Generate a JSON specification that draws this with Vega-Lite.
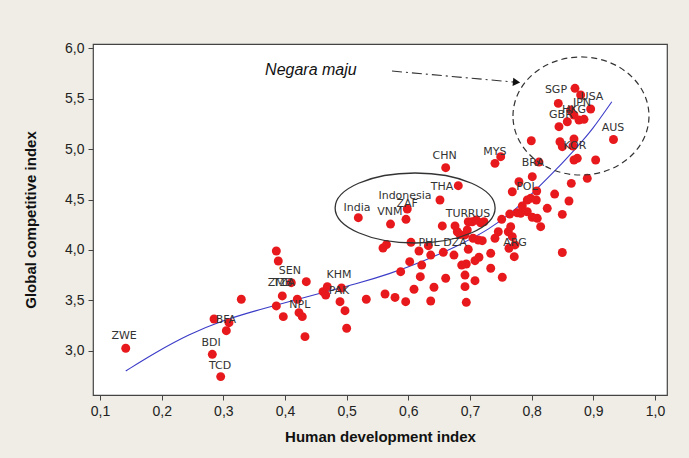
{
  "$schema": "https://vega.github.io/schema/vega-lite/v6.json",
  "width": 574,
  "height": 351,
  "autosize": {"type": "none"},
  "padding": {"left": 93, "top": 44, "right": 22, "bottom": 63},
  "background": "#efede5",
  "config": {
    "locale": {"number": {"decimal": ",", "thousands": ".", "grouping": [3], "currency": ["", ""]}},
    "view": {"fill": "white", "stroke": "#444", "strokeWidth": 1.2},
    "axis": {"grid": false, "domain": false, "labelFont": "Liberation Sans", "labelFontSize": 14, "labelColor": "#222", "tickColor": "#444", "tickSize": 5, "titleFont": "Liberation Sans", "titleFontSize": 15, "titleFontWeight": "bold", "titleColor": "#111"}
  },
  "datasets": {
    "fit": [
      {"hdi": 0.1417, "gci": 2.802}, {"hdi": 0.190, "gci": 2.985}, {"hdi": 0.244, "gci": 3.165},
      {"hdi": 0.298, "gci": 3.300}, {"hdi": 0.352, "gci": 3.399}, {"hdi": 0.406, "gci": 3.488},
      {"hdi": 0.460, "gci": 3.577}, {"hdi": 0.515, "gci": 3.663}, {"hdi": 0.569, "gci": 3.762},
      {"hdi": 0.623, "gci": 3.884}, {"hdi": 0.677, "gci": 4.033}, {"hdi": 0.731, "gci": 4.198},
      {"hdi": 0.779, "gci": 4.429}, {"hdi": 0.801, "gci": 4.561}, {"hdi": 0.842, "gci": 4.809},
      {"hdi": 0.874, "gci": 5.023}, {"hdi": 0.898, "gci": 5.188}, {"hdi": 0.930, "gci": 5.468}
    ],
    "pts": [
      {"hdi": 0.1417, "gci": 3.027}, {"hdi": 0.2849, "gci": 3.317}, {"hdi": 0.3092, "gci": 3.280},
      {"hdi": 0.3048, "gci": 3.201}, {"hdi": 0.2821, "gci": 2.967}, {"hdi": 0.2957, "gci": 2.746},
      {"hdi": 0.3291, "gci": 3.512}, {"hdi": 0.3859, "gci": 3.990}, {"hdi": 0.3891, "gci": 3.891},
      {"hdi": 0.3956, "gci": 3.545}, {"hdi": 0.3859, "gci": 3.446}, {"hdi": 0.3972, "gci": 3.340},
      {"hdi": 0.4102, "gci": 3.676}, {"hdi": 0.4345, "gci": 3.686}, {"hdi": 0.4199, "gci": 3.512},
      {"hdi": 0.4227, "gci": 3.379}, {"hdi": 0.4280, "gci": 3.340}, {"hdi": 0.4324, "gci": 3.142},
      {"hdi": 0.4616, "gci": 3.587}, {"hdi": 0.4660, "gci": 3.554}, {"hdi": 0.4686, "gci": 3.637},
      {"hdi": 0.4916, "gci": 3.624}, {"hdi": 0.4892, "gci": 3.488}, {"hdi": 0.4973, "gci": 3.399},
      {"hdi": 0.5000, "gci": 3.225}, {"hdi": 0.5318, "gci": 3.512}, {"hdi": 0.5622, "gci": 3.564},
      {"hdi": 0.5589, "gci": 4.020}, {"hdi": 0.5646, "gci": 4.054}, {"hdi": 0.5189, "gci": 4.320},
      {"hdi": 0.5711, "gci": 4.257}, {"hdi": 0.5962, "gci": 4.304}, {"hdi": 0.5983, "gci": 4.406},
      {"hdi": 0.6513, "gci": 4.495}, {"hdi": 0.6606, "gci": 4.815}, {"hdi": 0.6810, "gci": 4.637},
      {"hdi": 0.6551, "gci": 4.238}, {"hdi": 0.6757, "gci": 4.238}, {"hdi": 0.6794, "gci": 4.181},
      {"hdi": 0.6838, "gci": 4.153}, {"hdi": 0.6972, "gci": 4.280}, {"hdi": 0.7037, "gci": 4.280},
      {"hdi": 0.7102, "gci": 4.297}, {"hdi": 0.7173, "gci": 4.270}, {"hdi": 0.7227, "gci": 4.280},
      {"hdi": 0.6956, "gci": 4.198}, {"hdi": 0.6919, "gci": 4.149}, {"hdi": 0.7049, "gci": 4.116},
      {"hdi": 0.7135, "gci": 4.099}, {"hdi": 0.7199, "gci": 4.092}, {"hdi": 0.6043, "gci": 4.076},
      {"hdi": 0.6173, "gci": 3.990}, {"hdi": 0.6324, "gci": 4.043}, {"hdi": 0.6363, "gci": 3.950},
      {"hdi": 0.6567, "gci": 3.977}, {"hdi": 0.6740, "gci": 3.950}, {"hdi": 0.6972, "gci": 4.007},
      {"hdi": 0.7336, "gci": 3.967}, {"hdi": 0.5876, "gci": 3.785}, {"hdi": 0.6022, "gci": 3.884},
      {"hdi": 0.6217, "gci": 3.851}, {"hdi": 0.6865, "gci": 3.851}, {"hdi": 0.6940, "gci": 3.861},
      {"hdi": 0.7081, "gci": 3.894}, {"hdi": 0.7146, "gci": 3.928}, {"hdi": 0.7336, "gci": 3.819},
      {"hdi": 0.6194, "gci": 3.736}, {"hdi": 0.6606, "gci": 3.720}, {"hdi": 0.6919, "gci": 3.752},
      {"hdi": 0.7081, "gci": 3.696}, {"hdi": 0.7524, "gci": 3.730}, {"hdi": 0.6092, "gci": 3.611},
      {"hdi": 0.6416, "gci": 3.631}, {"hdi": 0.6919, "gci": 3.637}, {"hdi": 0.5784, "gci": 3.530},
      {"hdi": 0.5957, "gci": 3.488}, {"hdi": 0.6363, "gci": 3.495}, {"hdi": 0.6940, "gci": 3.482},
      {"hdi": 0.7405, "gci": 4.858}, {"hdi": 0.7498, "gci": 4.924}, {"hdi": 0.7514, "gci": 4.304},
      {"hdi": 0.7644, "gci": 4.356}, {"hdi": 0.7767, "gci": 4.369}, {"hdi": 0.7660, "gci": 4.231},
      {"hdi": 0.7621, "gci": 4.181}, {"hdi": 0.7459, "gci": 4.181}, {"hdi": 0.7405, "gci": 4.116},
      {"hdi": 0.7730, "gci": 4.050}, {"hdi": 0.7718, "gci": 3.934}, {"hdi": 0.7632, "gci": 4.017},
      {"hdi": 0.7686, "gci": 4.132}, {"hdi": 0.7794, "gci": 4.676}, {"hdi": 0.7686, "gci": 4.577},
      {"hdi": 0.8082, "gci": 4.584}, {"hdi": 0.8010, "gci": 4.726}, {"hdi": 0.8119, "gci": 4.871},
      {"hdi": 0.7994, "gci": 5.082}, {"hdi": 0.8373, "gci": 4.554}, {"hdi": 0.7984, "gci": 4.512},
      {"hdi": 0.7929, "gci": 4.495}, {"hdi": 0.8075, "gci": 4.495}, {"hdi": 0.8605, "gci": 4.485},
      {"hdi": 0.7848, "gci": 4.436}, {"hdi": 0.7822, "gci": 4.363}, {"hdi": 0.7929, "gci": 4.379},
      {"hdi": 0.8010, "gci": 4.324}, {"hdi": 0.8091, "gci": 4.314}, {"hdi": 0.8146, "gci": 4.231},
      {"hdi": 0.8253, "gci": 4.413}, {"hdi": 0.8497, "gci": 4.353}, {"hdi": 0.8497, "gci": 3.975},
      {"hdi": 0.8643, "gci": 4.660}, {"hdi": 0.8902, "gci": 4.710}, {"hdi": 0.8686, "gci": 4.891},
      {"hdi": 0.8740, "gci": 4.908}, {"hdi": 0.9038, "gci": 4.891}, {"hdi": 0.8459, "gci": 5.072},
      {"hdi": 0.8497, "gci": 5.023}, {"hdi": 0.8686, "gci": 5.099}, {"hdi": 0.8670, "gci": 5.030},
      {"hdi": 0.9327, "gci": 5.094}, {"hdi": 0.8703, "gci": 5.601}, {"hdi": 0.8795, "gci": 5.535},
      {"hdi": 0.8957, "gci": 5.396}, {"hdi": 0.8432, "gci": 5.452}, {"hdi": 0.8633, "gci": 5.386},
      {"hdi": 0.8686, "gci": 5.337}, {"hdi": 0.8578, "gci": 5.270}, {"hdi": 0.8767, "gci": 5.287},
      {"hdi": 0.8849, "gci": 5.294}, {"hdi": 0.8443, "gci": 5.221}
    ],
    "labels": [
      {"hdi": 0.139, "gci": 3.149, "name": "ZWE"}, {"hdi": 0.304, "gci": 3.307, "name": "BFA"},
      {"hdi": 0.280, "gci": 3.079, "name": "BDI"}, {"hdi": 0.2946, "gci": 2.851, "name": "TCD"},
      {"hdi": 0.392, "gci": 3.673, "name": "ZMB"}, {"hdi": 0.398, "gci": 3.673, "name": "TZA"},
      {"hdi": 0.408, "gci": 3.792, "name": "SEN"}, {"hdi": 0.424, "gci": 3.455, "name": "NPL"},
      {"hdi": 0.4875, "gci": 3.752, "name": "KHM"}, {"hdi": 0.4875, "gci": 3.594, "name": "PAK"},
      {"hdi": 0.5167, "gci": 4.416, "name": "India"}, {"hdi": 0.5946, "gci": 4.535, "name": "Indonesia"},
      {"hdi": 0.570, "gci": 4.376, "name": "VNM"}, {"hdi": 0.598, "gci": 4.455, "name": "ZAF"},
      {"hdi": 0.659, "gci": 4.931, "name": "CHN"}, {"hdi": 0.6546, "gci": 4.624, "name": "THA"},
      {"hdi": 0.7405, "gci": 4.970, "name": "MYS"}, {"hdi": 0.679, "gci": 4.356, "name": "TUR"},
      {"hdi": 0.7146, "gci": 4.356, "name": "RUS"}, {"hdi": 0.6335, "gci": 4.069, "name": "PHL"},
      {"hdi": 0.6757, "gci": 4.069, "name": "DZA"}, {"hdi": 0.773, "gci": 4.069, "name": "ARG"},
      {"hdi": 0.802, "gci": 4.861, "name": "BRA"}, {"hdi": 0.7923, "gci": 4.624, "name": "POL"},
      {"hdi": 0.8394, "gci": 5.584, "name": "SGP"}, {"hdi": 0.8978, "gci": 5.515, "name": "USA"},
      {"hdi": 0.8816, "gci": 5.455, "name": "JPN"}, {"hdi": 0.8686, "gci": 5.386, "name": "HKG"},
      {"hdi": 0.8475, "gci": 5.337, "name": "GBR"}, {"hdi": 0.870, "gci": 5.030, "name": "KOR"},
      {"hdi": 0.9318, "gci": 5.208, "name": "AUS"}
    ]
  },
  "encoding": {
    "x": {"field": "hdi", "type": "quantitative", "scale": {"domain": [0.0886, 1.0195], "nice": false, "zero": false},
      "axis": {"values": [0.1, 0.2, 0.3, 0.4, 0.5, 0.6, 0.7, 0.8, 0.9, 1.0], "format": ".1f", "title": "Human development index", "labelPadding": 4, "titlePadding": 11}},
    "y": {"field": "gci", "type": "quantitative", "scale": {"domain": [2.564, 6.04], "nice": false, "zero": false},
      "axis": {"values": [3.0, 3.5, 4.0, 4.5, 5.0, 5.5, 6.0], "format": ".1f", "title": "Global competitive index", "labelPadding": 4, "titlePadding": 26}}
  },
  "layer": [
    {"data": {"name": "fit"}, "mark": {"type": "line", "color": "#3b3bc8", "strokeWidth": 1.1, "interpolate": "basis"}},
    {"data": {"name": "pts"}, "mark": {"type": "circle", "color": "#e8191c", "opacity": 1, "size": 80}},
    {"data": {"name": "labels"}, "mark": {"type": "text", "font": "DejaVu Sans", "fontSize": 11, "color": "#333", "align": "center", "baseline": "middle"},
      "encoding": {"text": {"field": "name", "type": "nominal"}}},
    {"data": {"values": [{"hdi": 0.611, "gci": 4.416}]},
      "mark": {"type": "point", "shape": "M-1,0A1,0.4375 0 1,1 1,0A1,0.4375 0 1,1 -1,0Z", "size": 25600, "filled": false, "stroke": "#333", "strokeWidth": 1.3, "opacity": 1}},
    {"data": {"values": [{"hdi": 0.880, "gci": 5.327}]},
      "mark": {"type": "point", "shape": "M-1,0A1,0.868 0 1,1 1,0A1,0.868 0 1,1 -1,0Z", "size": 18496, "filled": false, "stroke": "#333", "strokeWidth": 1.2, "strokeDash": [6, 4], "opacity": 1}},
    {"data": {"values": [{"hdi": 0.5735, "gci": 5.772, "hdi2": 0.7713, "gci2": 5.663}]},
      "mark": {"type": "rule", "color": "#333", "strokeWidth": 1.1, "strokeDash": [10, 4, 2, 4]},
      "encoding": {"x2": {"field": "hdi2"}, "y2": {"field": "gci2"}}},
    {"data": {"values": [{"hdi": 0.7755, "gci": 5.661}]},
      "mark": {"type": "point", "shape": "triangle-right", "size": 70, "filled": true, "color": "#111", "angle": 5, "opacity": 1}},
    {"data": {"values": [{"hdi": 0.442, "gci": 5.782, "name": "Negara maju"}]},
      "mark": {"type": "text", "font": "Liberation Sans", "fontSize": 16, "fontStyle": "italic", "color": "#111", "align": "center", "baseline": "middle"},
      "encoding": {"text": {"field": "name", "type": "nominal"}}}
  ]
}
